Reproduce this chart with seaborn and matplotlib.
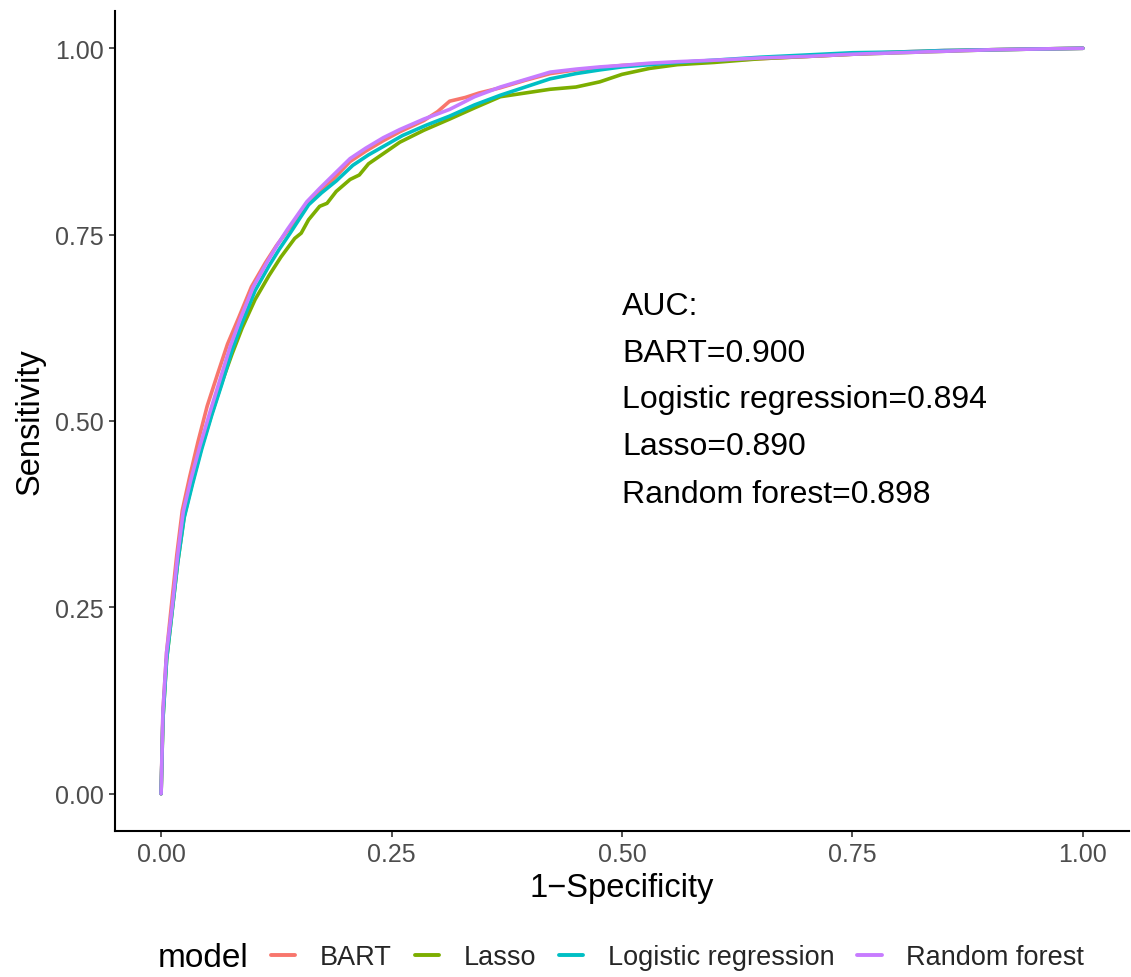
import numpy as np
import pandas as pd
import matplotlib
matplotlib.use("Agg")
import matplotlib.pyplot as plt
import seaborn as sns
from matplotlib.lines import Line2D

# ---------------- data ----------------
models = ["BART", "Lasso", "Logistic regression", "Random forest"]
colors = ["#F8766D", "#7CAE00", "#00BFC4", "#C77CFF"]

bart_fpr = [0, 0.002, 0.006, 0.011, 0.017, 0.023, 0.031, 0.04, 0.05, 0.061, 0.072, 0.084, 0.098,
            0.113, 0.125, 0.137, 0.158, 0.172, 0.188, 0.205, 0.222, 0.241, 0.259, 0.285, 0.300,
            0.313, 0.33, 0.345, 0.368, 0.395, 0.422, 0.45, 0.476, 0.50, 0.53, 0.56, 0.60, 0.65,
            0.70, 0.75, 0.80, 0.85, 0.90, 0.95, 1.0]
bart_tpr = [0, 0.11, 0.19, 0.25, 0.32, 0.38, 0.425, 0.472, 0.52, 0.562, 0.603, 0.638, 0.68,
            0.712, 0.735, 0.755, 0.79, 0.808, 0.826, 0.848, 0.862, 0.876, 0.888, 0.903, 0.915,
            0.929, 0.934, 0.94, 0.947, 0.957, 0.966, 0.971, 0.974, 0.977, 0.979, 0.981, 0.983,
            0.986, 0.989, 0.992, 0.995, 0.997, 0.998, 0.999, 1.0]

lasso_fpr = [0, 0.002, 0.006, 0.012, 0.018, 0.025, 0.034, 0.044, 0.055, 0.066, 0.077, 0.088,
             0.102, 0.117, 0.13, 0.145, 0.152, 0.16, 0.172, 0.18, 0.19, 0.205, 0.215, 0.225,
             0.245, 0.259, 0.285, 0.313, 0.34, 0.368, 0.395, 0.422, 0.45, 0.476, 0.50, 0.53,
             0.56, 0.60, 0.65, 0.70, 0.75, 0.80, 0.85, 0.90, 0.95, 1.0]
lasso_tpr = [0, 0.10, 0.18, 0.245, 0.31, 0.372, 0.418, 0.465, 0.51, 0.552, 0.59, 0.625, 0.663,
             0.695, 0.72, 0.745, 0.752, 0.77, 0.788, 0.792, 0.808, 0.824, 0.83, 0.845,
             0.862, 0.874, 0.89, 0.905, 0.92, 0.935, 0.94, 0.945, 0.948, 0.955, 0.965, 0.973,
             0.978, 0.981, 0.986, 0.989, 0.992, 0.994, 0.996, 0.998, 0.999, 1.0]

logit_fpr = [0, 0.002, 0.006, 0.012, 0.018, 0.025, 0.034, 0.044, 0.055, 0.066, 0.077, 0.088,
             0.102, 0.117, 0.128, 0.14, 0.16, 0.174, 0.19, 0.208, 0.225, 0.245, 0.262, 0.288,
             0.313, 0.34, 0.368, 0.395, 0.422, 0.45, 0.476, 0.50, 0.53, 0.56, 0.60, 0.65, 0.70,
             0.75, 0.80, 0.85, 0.90, 0.95, 1.0]
logit_tpr = [0, 0.10, 0.18, 0.245, 0.31, 0.37, 0.415, 0.462, 0.508, 0.55, 0.595, 0.632, 0.675,
             0.708, 0.73, 0.752, 0.79, 0.806, 0.822, 0.843, 0.857, 0.871, 0.883, 0.897, 0.909,
             0.924, 0.937, 0.948, 0.959, 0.966, 0.971, 0.975, 0.978, 0.981, 0.984, 0.988, 0.991,
             0.994, 0.995, 0.997, 0.998, 0.999, 1.0]

rf_fpr = [0, 0.002, 0.006, 0.012, 0.018, 0.024, 0.032, 0.042, 0.053, 0.064, 0.075, 0.086, 0.100,
          0.115, 0.126, 0.137, 0.158, 0.172, 0.186, 0.205, 0.222, 0.241, 0.259, 0.285, 0.313,
          0.340, 0.368, 0.395, 0.422, 0.45, 0.476, 0.50, 0.53, 0.56, 0.60, 0.65, 0.70, 0.75,
          0.80, 0.85, 0.90, 0.95, 1.0]
rf_tpr = [0, 0.11, 0.19, 0.25, 0.32, 0.378, 0.42, 0.466, 0.512, 0.556, 0.60, 0.637, 0.68,
          0.713, 0.736, 0.757, 0.794, 0.812, 0.829, 0.852, 0.866, 0.88, 0.891, 0.905, 0.918,
          0.935, 0.948, 0.958, 0.968, 0.972, 0.975, 0.977, 0.98, 0.982, 0.984, 0.987, 0.989,
          0.992, 0.994, 0.996, 0.998, 0.999, 1.0]

auc_lines = ["AUC:", "BART=0.900", "Logistic regression=0.894", "Lasso=0.890", "Random forest=0.898"]
x_ticks = [0.00, 0.25, 0.50, 0.75, 1.00]
y_ticks = [0.00, 0.25, 0.50, 0.75, 1.00]

# ---------------- build long table ----------------
frames = []
for name, fx, ty in zip(models, [bart_fpr, lasso_fpr, logit_fpr, rf_fpr],
                        [bart_tpr, lasso_tpr, logit_tpr, rf_tpr]):
    frames.append(pd.DataFrame({"fpr": fx, "tpr": ty, "model": name}))
df = pd.concat(frames, ignore_index=True)

sns.set_style("white")
plt.rcParams["font.family"] = ["Liberation Sans", "DejaVu Sans"]

W, H = 1131, 978
fig = plt.figure(figsize=(W / 100, H / 100), dpi=100)
ax = fig.add_axes([115 / W, 1 - 832 / H, (1129 - 115) / W, (832 - 12) / H])

sns.lineplot(data=df, x="fpr", y="tpr", hue="model", hue_order=models,
             palette=dict(zip(models, colors)), sort=False, estimator=None,
             units="model", linewidth=2.6, ax=ax, legend=False)

ax.set_xlim(-0.05, 1.05)
ax.set_ylim(-0.05, 1.05)
ax.set_xticks(x_ticks)
ax.set_yticks(y_ticks)
ax.set_xticklabels([f"{v:.2f}" for v in x_ticks])
ax.set_yticklabels([f"{v:.2f}" for v in y_ticks])
ax.tick_params(axis="both", which="both", direction="out", length=4, width=1.2,
               color="#333333", labelcolor="#4D4D4D", labelsize=18, pad=4,
               bottom=True, left=True)
for side in ["top", "right"]:
    ax.spines[side].set_visible(False)
for side in ["left", "bottom"]:
    ax.spines[side].set_color("black")
    ax.spines[side].set_linewidth(1.5)

ax.set_xlabel("1\u2212Specificity", fontsize=23.5, color="black", labelpad=4)
ax.set_ylabel("Sensitivity", fontsize=23.5, color="black", labelpad=7)

# AUC annotation
baselines = [0.643, 0.580, 0.519, 0.456, 0.391]
for txt, yb in zip(auc_lines, baselines):
    ax.text(0.5, yb, txt, fontsize=23, color="black", ha="left", va="baseline")

# legend at bottom
handles = [Line2D([0], [0], color=c, lw=2.8) for c in colors]
fig.text(158 / W, 1 - 967 / H, "model", fontsize=24, color="black", ha="left", va="baseline")
fig.legend(handles, models, loc="center left", bbox_to_anchor=(271 / W, 1 - 958 / H),
           ncol=4, frameon=False, fontsize=19.5, handlelength=0.9, handletextpad=0.9,
           columnspacing=0.85, borderpad=0, borderaxespad=0)

fig.savefig("out.png", dpi=100, facecolor="white")
